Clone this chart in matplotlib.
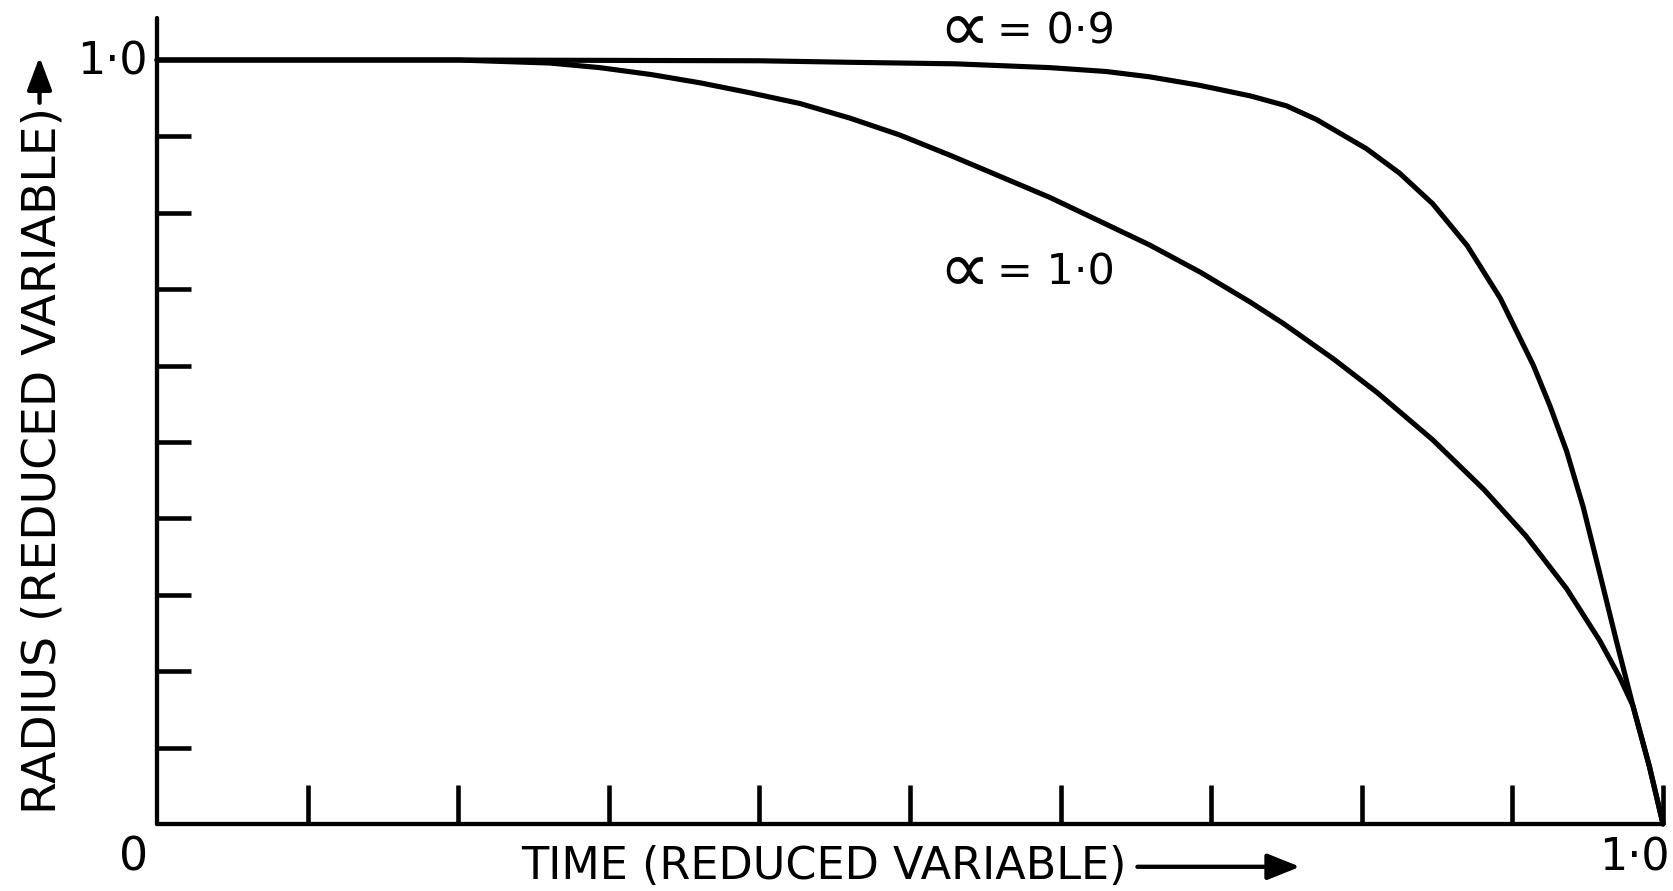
import matplotlib
matplotlib.use("Agg")
import matplotlib.pyplot as plt

# Reduced time (x) and reduced radius (y) for the two curves
time_a09 = [0.0, 0.2, 0.3, 0.4, 0.46, 0.53, 0.593, 0.63, 0.659, 0.692, 0.726,
            0.750, 0.770, 0.803, 0.825, 0.847, 0.870, 0.892, 0.914, 0.925, 0.936,
            0.947, 0.958, 0.969, 0.980, 0.991, 1.0]
radius_a09 = [1.0, 1.0, 0.9995, 0.999, 0.997, 0.995, 0.990, 0.985, 0.978, 0.967, 0.953,
              0.940, 0.922, 0.884, 0.852, 0.812, 0.757, 0.688, 0.600, 0.547, 0.488,
              0.415, 0.328, 0.240, 0.155, 0.075, 0.0]

time_a10 = [0.0, 0.1, 0.2, 0.261, 0.294, 0.328, 0.361, 0.394, 0.427, 0.460, 0.493,
            0.527, 0.593, 0.659, 0.693, 0.726, 0.748, 0.781, 0.810, 0.847,
            0.881, 0.909, 0.936, 0.958, 0.971, 0.980, 0.991, 1.0]
radius_a10 = [1.0, 1.0, 1.0, 0.996, 0.990, 0.981, 0.970, 0.957, 0.943, 0.924, 0.902,
              0.875, 0.820, 0.758, 0.722, 0.683, 0.655, 0.609, 0.565, 0.503,
              0.438, 0.377, 0.308, 0.240, 0.193, 0.155, 0.075, 0.0]

alpha_sign = "\u221d"
curve_values = ["= 0\u00b79", "= 1\u00b70"]
x_ticks = [0.1, 0.2, 0.3, 0.4, 0.5, 0.6, 0.7, 0.8, 0.9, 1.0]
y_ticks = [0.1, 0.2, 0.3, 0.4, 0.5, 0.6, 0.7, 0.8, 0.9]
x_title = "TIME (REDUCED VARIABLE)"
y_title = "RADIUS (REDUCED VARIABLE)"

FONT = "DejaVu Sans"
CURVE_LW = 3.7
AXIS_LW = 3.1

fig = plt.figure(figsize=(16.74, 8.91), dpi=100)
ax = fig.add_axes([157 / 1674, 67 / 891, 1506 / 1674, 1.055 * 764 / 891])

for t, r in ((time_a09, radius_a09), (time_a10, radius_a10)):
    ax.plot(t, r, color="black", lw=CURVE_LW, solid_capstyle="round",
            solid_joinstyle="round", clip_on=False)

ax.set_xlim(0, 1.0)
ax.set_ylim(0, 1.055)

for side in ("top", "right"):
    ax.spines[side].set_visible(False)
for side in ("left", "bottom"):
    ax.spines[side].set_linewidth(AXIS_LW)
    ax.spines[side].set_capstyle("round")

ax.set_xticks(x_ticks)
ax.set_yticks(y_ticks)
ax.tick_params(axis="x", direction="in", length=28, width=3.3, labelbottom=False)
ax.tick_params(axis="y", direction="in", length=24.5, width=3.3, labelleft=False)

# end-point labels of the axes
ax.text(-0.006, 0.997, "1\u00b70", ha="right", va="center", fontsize=32,
        family=FONT, clip_on=False)
ax.text(-0.0153, -0.0445, "0", ha="center", va="center", fontsize=33,
        family=FONT, clip_on=False)
ax.text(0.981, -0.0445, "1\u00b70", ha="center", va="center", fontsize=32,
        family=FONT, clip_on=False)

# curve labels
for y_lab, val in ((1.037, curve_values[0]), (0.722, curve_values[1])):
    ax.text(0.519, y_lab, alpha_sign, ha="left", va="center", fontsize=52,
            family=FONT, clip_on=False)
    ax.text(0.558, y_lab, val, ha="left", va="center", fontsize=31,
            family=FONT, clip_on=False)

# axis titles with direction arrows
ax.text(0.242, -0.056, x_title, ha="left", va="center", fontsize=32,
        family=FONT, clip_on=False)
ax.annotate("", xy=(0.759, -0.056), xytext=(0.651, -0.056),
            xycoords="data", textcoords="data", annotation_clip=False,
            arrowprops=dict(arrowstyle="-|>,head_length=2.0,head_width=0.8",
                            lw=AXIS_LW, color="black", shrinkA=0, shrinkB=0))

ax.text(-0.076, 0.476, y_title, ha="center", va="center", rotation=90,
        fontsize=34, family=FONT, clip_on=False)
ax.annotate("", xy=(-0.078, 1.004), xytext=(-0.078, 0.944),
            xycoords="data", textcoords="data", annotation_clip=False,
            arrowprops=dict(arrowstyle="-|>,head_length=2.0,head_width=0.75",
                            lw=AXIS_LW, color="black", shrinkA=0, shrinkB=0))

fig.savefig("out.png", dpi=100, facecolor="white")
